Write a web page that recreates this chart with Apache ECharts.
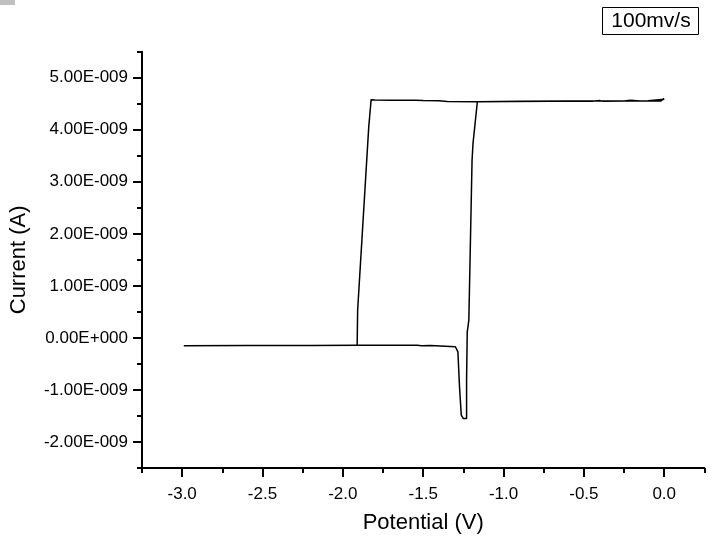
<!DOCTYPE html>
<html>
<head>
<meta charset="utf-8">
<script src="https://cdn.jsdelivr.net/npm/echarts@6/dist/echarts.min.js"></script>
<style>
html,body{margin:0;padding:0;background:#fff;}
#chart{width:727px;height:543px;}
</style>
</head>
<body>
<div id="chart"></div>
<script>
// Potential (V) in scan order
var potential = [0.00,-0.02,-0.15,-0.21,-0.25,-0.38,-0.40,-0.45,-0.70,-0.95,-1.16,-1.35,-1.40,-1.50,-1.55,-1.70,-1.80,-1.824,
  -1.839,-1.908,-1.911,
  -2.2,-2.6,-2.99,
  -2.6,-2.2,-1.92,-1.70,-1.537,-1.53,-1.51,-1.455,-1.45,-1.30,
  -1.284,-1.274,-1.263,-1.251,-1.230,-1.230,-1.226,-1.216,-1.196,-1.190,-1.163,
  -0.9,-0.6,-0.3,-0.1,0.00];
// Current (A) in scan order
var current = [4.60e-9,4.555e-9,4.553e-9,4.565e-9,4.553e-9,4.548e-9,4.560e-9,4.550e-9,4.548e-9,4.545e-9,4.540e-9,4.545e-9,4.558e-9,4.560e-9,4.565e-9,4.568e-9,4.574e-9,4.578e-9,
  4.05e-9,0.53e-9,-0.14e-9,
  -0.145e-9,-0.148e-9,-0.150e-9,
  -0.148e-9,-0.145e-9,-0.142e-9,-0.140e-9,-0.140e-9,-0.155e-9,-0.150e-9,-0.145e-9,-0.159e-9,-0.170e-9,
  -0.269e-9,-0.941e-9,-1.484e-9,-1.548e-9,-1.548e-9,-0.81e-9,0.11e-9,0.34e-9,3.41e-9,3.739e-9,4.539e-9,
  4.548e-9,4.552e-9,4.555e-9,4.558e-9,4.585e-9];

var xTicks = [-3.0,-2.5,-2.0,-1.5,-1.0,-0.5,0.0];
var xTickLabels = ['-3.0','-2.5','-2.0','-1.5','-1.0','-0.5','0.0'];
var xMinorTicks = [-3.25,-2.75,-2.25,-1.75,-1.25,-0.75,-0.25,0.25];
var yTicks = [-2e-9,-1e-9,0,1e-9,2e-9,3e-9,4e-9,5e-9];
var yTickLabels = ['-2.00E-009','-1.00E-009','0.00E+000','1.00E-009','2.00E-009','3.00E-009','4.00E-009','5.00E-009'];
var yMinorTicks = [-2.5e-9,-1.5e-9,-0.5e-9,0.5e-9,1.5e-9,2.5e-9,3.5e-9,4.5e-9,5.5e-9];
var legendText = '100mv/s';

var data = potential.map(function(v,i){return [v,current[i]];});
function lookup(vals, labels, v){
  for (var i=0;i<vals.length;i++){ if (Math.abs(vals[i]-v) < Math.abs(vals[1]-vals[0])*1e-3) return labels[i]; }
  return '';
}
var FONT = 'Liberation Sans';
var xMin=-3.25, xMax=0.25, yMin=-2.5e-9, yMax=5.5e-9;

var chart = echarts.init(document.getElementById('chart'), null, {renderer:'canvas'});
chart.setOption({
  animation:false,
  backgroundColor:'#fff',
  grid:{left:142,right:22.6,top:51.7,bottom:75,containLabel:false},
  xAxis:[{
    type:'value',min:xMin,max:xMax,
    axisLine:{show:true,onZero:false,lineStyle:{color:'#000',width:2}},
    axisTick:{show:true,length:9,lineStyle:{color:'#000',width:2},customValues:xTicks},
    axisLabel:{show:true,color:'#000',fontFamily:FONT,fontSize:17,margin:18,customValues:xTicks,
      formatter:function(v){return lookup(xTicks,xTickLabels,v);}},
    splitLine:{show:false},
    name:'Potential (V)',nameLocation:'middle',nameGap:44,
    nameTextStyle:{color:'#000',fontFamily:FONT,fontSize:22}
  },{
    type:'value',min:xMin,max:xMax,gridIndex:0,position:'bottom',
    axisLine:{show:false,onZero:false},
    axisTick:{show:true,length:5,lineStyle:{color:'#000',width:2},customValues:xMinorTicks},
    axisLabel:{show:false},splitLine:{show:false}
  }],
  yAxis:[{
    type:'value',min:yMin,max:yMax,
    axisLine:{show:true,onZero:false,lineStyle:{color:'#000',width:2}},
    axisTick:{show:true,length:9,lineStyle:{color:'#000',width:2},customValues:yTicks},
    axisLabel:{show:true,color:'#000',fontFamily:FONT,fontSize:17,margin:14,customValues:yTicks,
      formatter:function(v){return lookup(yTicks,yTickLabels,v);}},
    splitLine:{show:false},
    name:'Current (A)',nameLocation:'middle',nameGap:112,nameRotate:90,
    nameTextStyle:{color:'#000',fontFamily:FONT,fontSize:22}
  },{
    type:'value',min:yMin,max:yMax,gridIndex:0,position:'left',
    axisLine:{show:false,onZero:false},
    axisTick:{show:true,length:5,lineStyle:{color:'#000',width:2},customValues:yMinorTicks},
    axisLabel:{show:false},splitLine:{show:false}
  }],
  series:[{
    type:'line',xAxisIndex:0,yAxisIndex:0,data:data,
    showSymbol:false,symbol:'none',smooth:false,
    lineStyle:{color:'#000',width:1.5},
    silent:true
  }],
  graphic:[
    {type:'rect',left:0,top:0,shape:{x:0,y:0,width:15,height:5},style:{fill:'#c0c0c0'}},
    {type:'rect',shape:{x:602.5,y:7.5,width:96,height:27},style:{fill:'#fff',stroke:'#000',lineWidth:1}},
    {type:'text',x:651,y:21.5,style:{text:legendText,fill:'#000',font:'21px "Liberation Sans"',align:'center',verticalAlign:'middle'}}
  ]
});
</script>
</body>
</html>
